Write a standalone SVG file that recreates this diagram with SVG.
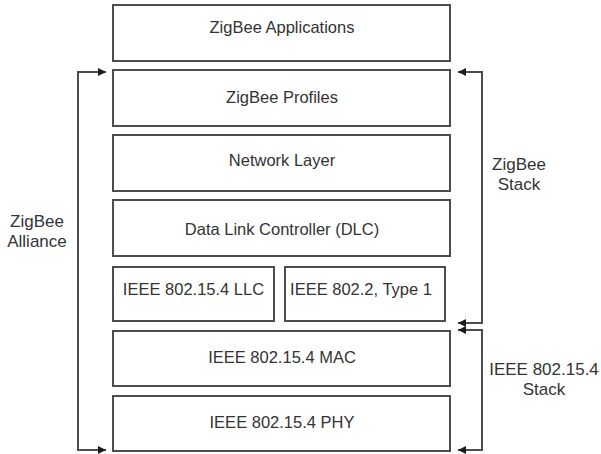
<svg xmlns="http://www.w3.org/2000/svg" width="601" height="454" viewBox="0 0 601 454">
<style>
.box{fill:#fff;stroke:#4d4d4d;stroke-width:2}
.t{font-family:"Liberation Sans",Arial,sans-serif;font-size:16.5px;fill:#333;text-anchor:middle}
.s{font-family:"Liberation Sans",Arial,sans-serif;font-size:17px;fill:#333;text-anchor:middle}
.c{fill:none;stroke:#4d4d4d;stroke-width:2}
</style>
<defs>
<marker id="ah" viewBox="0 0 10 10" refX="10" refY="5" markerWidth="10" markerHeight="8" markerUnits="userSpaceOnUse" orient="auto-start-reverse">
<path d="M0,0 L10,5 L0,10 Z" fill="#1a1a1a"/>
</marker>
</defs>
<rect width="601" height="454" fill="#fff"/>
<g id="apps"><rect class="box" x="113" y="5" width="337" height="56"/><text class="t" x="282" y="33">ZigBee Applications</text></g>
<g id="profiles"><rect class="box" x="113" y="70" width="337" height="56"/><text class="t" x="282" y="103">ZigBee Profiles</text></g>
<g id="network"><rect class="box" x="113" y="135" width="337" height="56"/><text class="t" x="282" y="166">Network Layer</text></g>
<g id="dlc"><rect class="box" x="113" y="200" width="337" height="56"/><text class="t" x="282" y="235">Data Link Controller (DLC)</text></g>
<g id="llc"><rect class="box" x="113" y="267" width="161" height="54"/><text class="t" x="193.5" y="295">IEEE 802.15.4 LLC</text></g>
<g id="type1"><rect class="box" x="285" y="267" width="160" height="54"/><text class="t" x="361" y="295">IEEE 802.2, Type 1</text></g>
<g id="mac"><rect class="box" x="113" y="331" width="337" height="55"/><text class="t" x="282" y="363">IEEE 802.15.4 MAC</text></g>
<g id="phy"><rect class="box" x="113" y="396" width="337" height="55"/><text class="t" x="282" y="428">IEEE 802.15.4 PHY</text></g>
<g id="alliance"><text class="s" x="37" y="227">ZigBee</text><text class="s" x="37" y="247">Alliance</text></g>
<g id="zbstack"><text class="s" x="519" y="170">ZigBee</text><text class="s" x="519" y="190">Stack</text></g>
<g id="ieeestack"><text class="s" x="544" y="375">IEEE 802.15.4</text><text class="s" x="544" y="395">Stack</text></g>
<g id="connectors">
<path class="c" d="M106,72 H78 V450 H106" marker-start="url(#ah)" marker-end="url(#ah)"/>
<path class="c" d="M458,72 H482 V323 H458" marker-start="url(#ah)" marker-end="url(#ah)"/>
<path class="c" d="M458,330 H482 V450 H458" marker-start="url(#ah)" marker-end="url(#ah)"/>
</g>
</svg>
